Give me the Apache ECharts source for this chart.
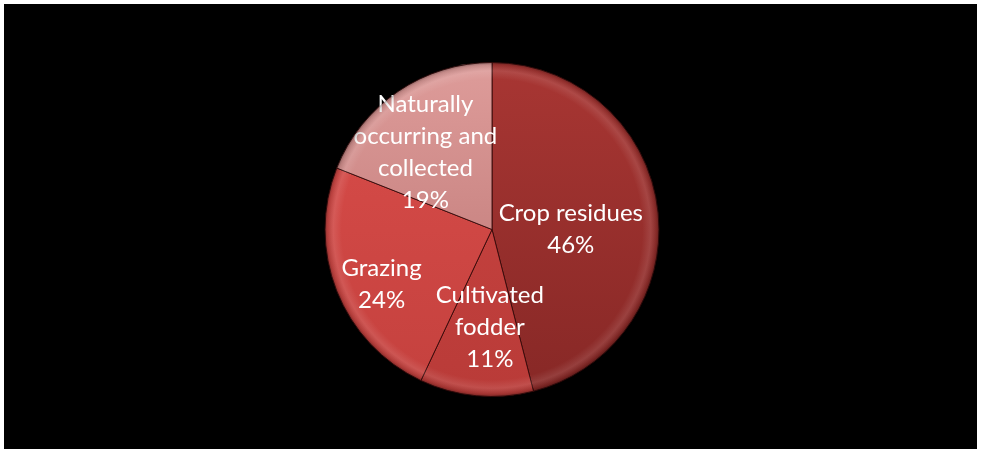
<!DOCTYPE html>
<html>
<head>
<meta charset="utf-8">
<script src="https://cdn.jsdelivr.net/npm/echarts@6/dist/echarts.min.js"></script>
<style>
  html, body { margin: 0; padding: 0; background: #ffffff; }
  #chart { position: absolute; left: 4px; top: 4px; width: 973px; height: 445px; background: #000000; }
</style>
</head>
<body>
<div id="chart"></div>
<script>
// Feed sources and their shares (%)
const categories = ['Crop residues', 'Cultivated fodder', 'Grazing', 'Naturally occurring and collected'];
const labelNames = ['Crop residues', 'Cultivated\nfodder', 'Grazing', 'Naturally\noccurring and\ncollected'];
const shares = [46, 11, 24, 19];

// Slice colours: [top, bottom] of a vertical shading
const sliceColors = [
  ['#a83633', '#872826'],
  ['#cc4542', '#b93b38'],
  ['#da4d4a', '#c4413e'],
  ['#de9c9a', '#b8716f']
];
// Fine-tuning of label placement inside each slice
const labelShift = [[-7, 11], [6, 12], [-30, 23], [-18, -6]];

const cx = 488, cy = 225.5, R = 167;

const chart = echarts.init(document.getElementById('chart'), null, { renderer: 'canvas' });

function vGrad(top, bottom) {
  return {
    type: 'linear', global: true,
    x: 0, y: cy - R, x2: 0, y2: cy + R,
    colorStops: [{ offset: 0, color: top }, { offset: 1, color: bottom }]
  };
}

const baseData = categories.map((c, i) => ({
  name: c,
  value: shares[i],
  itemStyle: { color: vGrad(sliceColors[i][0], sliceColors[i][1]) },
  label: { offset: labelShift[i] }
}));

// Rim shading layered on top for a bevelled look
const rim = {
  type: 'radial', global: true, x: cx, y: cy, r: R,
  colorStops: [
    { offset: 0, color: 'rgba(255,255,255,0)' },
    { offset: 0.9, color: 'rgba(255,255,255,0)' },
    { offset: 0.95, color: 'rgba(255,255,255,0.10)' },
    { offset: 0.985, color: 'rgba(0,0,0,0.12)' },
    { offset: 1, color: 'rgba(0,0,0,0.35)' }
  ]
};

chart.setOption({
  backgroundColor: '#000000',
  animation: false,
  series: [
    {
      type: 'pie',
      center: [cx, cy],
      radius: [0, R],
      startAngle: 90,
      clockwise: true,
      avoidLabelOverlap: false,
      z: 1,
      itemStyle: { borderColor: 'rgba(50,8,8,0.85)', borderWidth: 1 },
      label: {
        show: true,
        position: 'inside',
        color: '#ffffff',
        fontFamily: 'Lato, "Open Sans", sans-serif',
        fontSize: 24,
        lineHeight: 32,
        formatter: p => labelNames[p.dataIndex] + '\n' + p.value + '%'
      },
      labelLine: { show: false },
      emphasis: { disabled: true },
      data: baseData
    },
    {
      type: 'pie',
      center: [cx, cy],
      radius: [0, R],
      startAngle: 90,
      clockwise: true,
      silent: true,
      z: 2,
      itemStyle: { color: rim, borderColor: 'rgba(0,0,0,0)', borderWidth: 0 },
      label: { show: false },
      labelLine: { show: false },
      data: shares.map((v, i) => ({ name: categories[i], value: v }))
    }
  ]
});
</script>
</body>
</html>
